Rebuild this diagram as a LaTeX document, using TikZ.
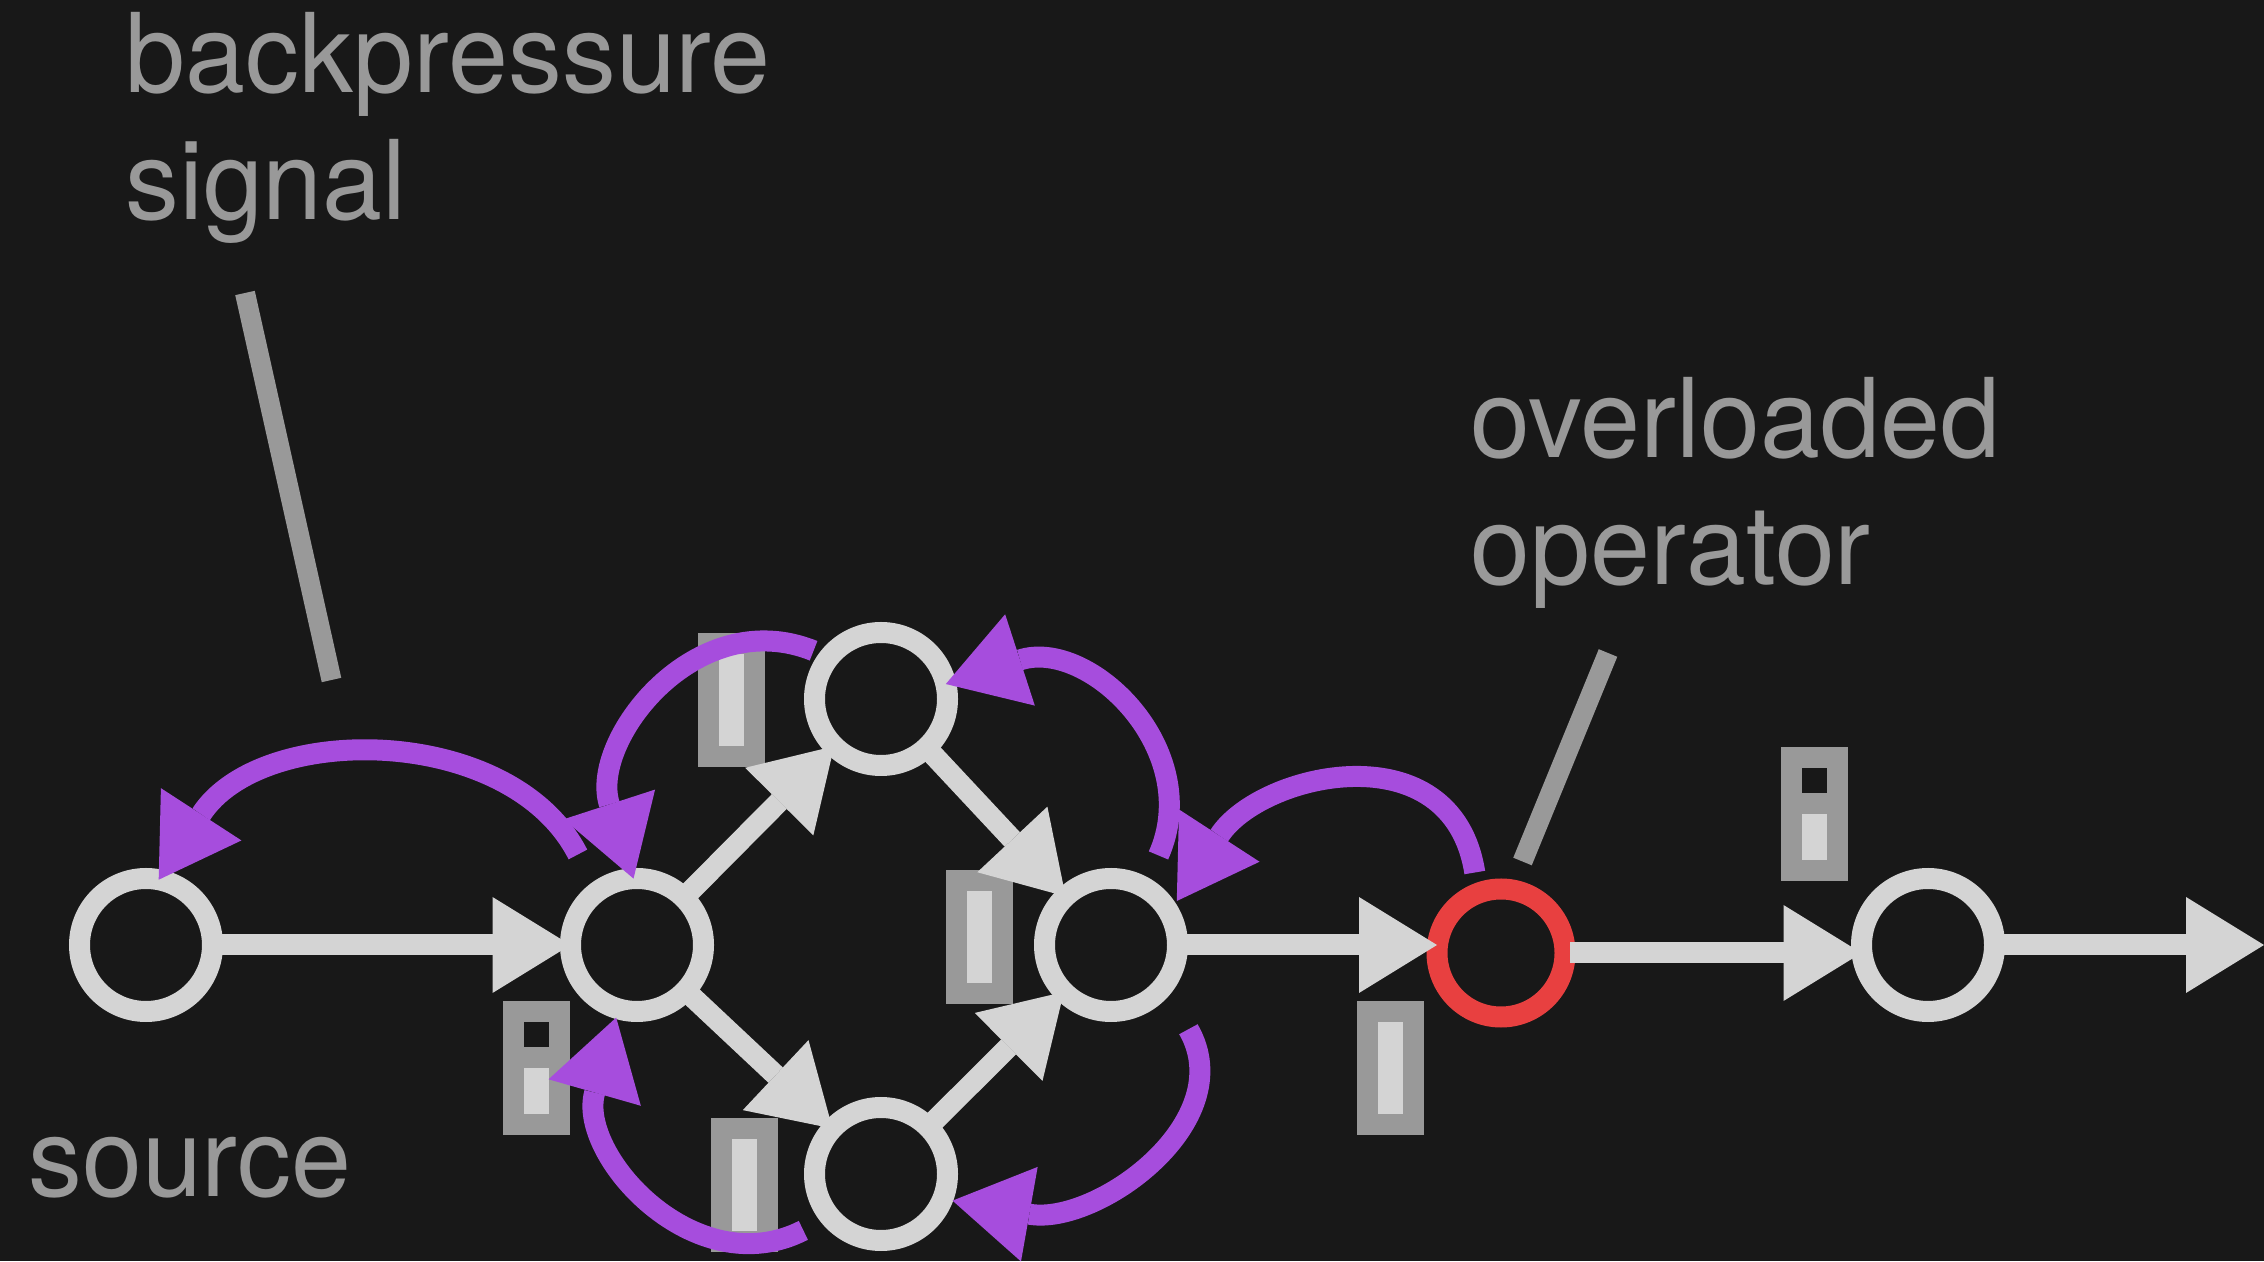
\documentclass[tikz,border=0pt]{standalone}
\usepackage{fontspec}
\setmainfont{TeX Gyre Heros}[FakeStretch=0.98]
\usetikzlibrary{arrows.meta}

\definecolor{bgcol}{HTML}{181818}
\definecolor{fgcol}{HTML}{D4D4D4}
\definecolor{mutedcol}{HTML}{999999}
\definecolor{sigcol}{HTML}{A64DDD}
\definecolor{hotcol}{HTML}{E84040}

\begin{document}
\begin{tikzpicture}[x=1pt, y=1pt,
    op/.style={circle, draw=fgcol, line width=21pt, minimum size=133pt, inner sep=0pt, outer sep=0pt},
    hotop/.style={op, draw=hotcol, minimum size=128pt},
    queue/.style={rectangle, draw=mutedcol, fill=fgcol, line width=21pt, minimum width=46pt, minimum height=113pt, inner sep=0pt},
    halfqueue/.style={queue, path picture={
        \fill[bgcol] ([yshift=-35.5pt]path picture bounding box.north west) rectangle (path picture bounding box.north east);
        \fill[mutedcol] ([yshift=-35.5pt]path picture bounding box.north west) rectangle ([yshift=-56.5pt]path picture bounding box.north east);}},
    flow/.style={draw=fgcol, line width=21pt, -{Triangle[length=78pt, width=96pt, line width=0pt]}},
    backsig/.style={draw=sigcol, line width=21pt, -{Triangle[length=78pt, width=96pt, line width=0pt]}},
    pointer/.style={draw=mutedcol, line width=20pt},
    remark/.style={text=mutedcol, anchor=base west, align=left, inner sep=0pt, font=\fontsize{110}{127.5}\selectfont}
  ]
    \useasboundingbox (0,0) rectangle (2264,1261);
    \clip (0,0) rectangle (2264,1261);
    \fill[bgcol] (0,0) rectangle (2264,1261);

    % buffers
    \node (q1) [halfqueue] at (536.5,193) {};
    \node (q2) [queue] at (731.5,561) {};
    \node (q3) [queue] at (744.5,76) {};
    \node (q4) [queue] at (979.5,324) {};
    \node (q5) [queue] at (1390,193) {};
    \node (q6) [halfqueue] at (1814,447) {};

    % operators
    \node (source) [op] at (146,316) {};
    \node (split) [op] at (637,316) {};
    \node (upper) [op] at (881,562) {};
    \node (lower) [op] at (881,87) {};
    \node (merge) [op] at (1111,316) {};
    \node (hot) [hotop] at (1501,308) {};
    \node (sink) [op] at (1928,316) {};
    \coordinate (out) at (2264,316);

    \draw [flow] (source) -- (split);
    \draw [flow] (split) -- (upper);
    \draw [flow] (split) -- (lower);
    \draw [flow] (upper) -- (merge);
    \draw [flow] (lower) -- (merge);
    \draw [flow] (merge.east) -- (merge.east -| hot.west);
    \draw [flow, shorten <=5pt] (hot.east) -- (hot.east -| sink.west);
    \draw [flow] (sink) -- (out);

    % backpressure going upstream
    \draw [backsig, shorten <=42pt] (split.127) to [out=117, in=57, looseness=1.1] (source.79);
    \draw [backsig, shorten <=17pt] (upper.141) to [out=158, in=108, looseness=1.25] (split.93);
    \draw [backsig, shorten <=35pt] (merge.60) to [out=66, in=18, looseness=1.35] (upper.13);
    \draw [backsig, shorten <=21pt, shorten >=14pt] (hot.111) to [out=99, in=57, looseness=1.38] (merge.29);
    \draw [backsig, shorten <=50pt, shorten >=10pt] (merge.-38) to [out=-60, in=-10, looseness=1.3] (lower.-22);
    \draw [backsig, shorten <=30pt, shorten >=9pt] (lower.220) to [out=207, in=254, looseness=1.31] (split.254);

    \coordinate (bptop) at (245,968);
    \coordinate (bpend) at (331.5,581);
    \draw [pointer] (bptop) -- (bpend);
    \coordinate (oltop) at (1608,608);
    \coordinate (olend) at (1522.5,399.5);
    \draw [pointer] (oltop) -- (olend);

    \node (bplabel) [remark] at (125,1041) {backpressure\\signal};
    \node (ollabel) [remark] at (1470.7,676) {overloaded\\operator};
    \node (srclabel) [remark] at (28,64.3) {source};
\end{tikzpicture}
\end{document}
